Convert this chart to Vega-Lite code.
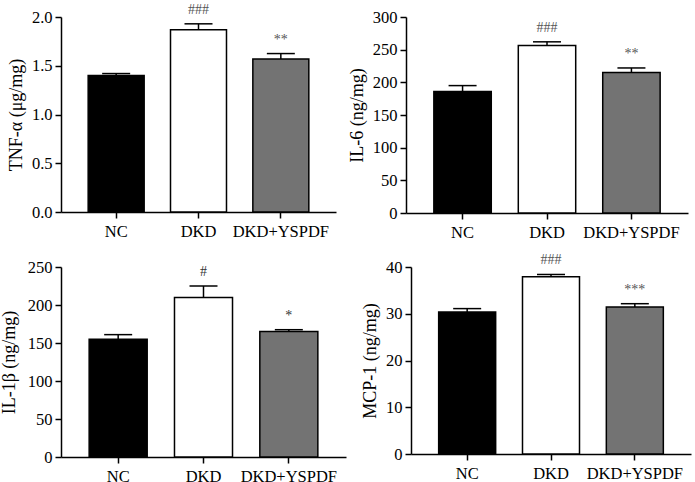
{
  "$schema": "https://vega.github.io/schema/vega-lite/v6.json",
  "padding": {"left": 0, "top": 2, "right": 4, "bottom": 0},
  "background": "white",
  "spacing": 12,
  "config": {
    "view": {"stroke": null},
    "font": "Liberation Serif",
    "axis": {
      "domainColor": "black", "domainWidth": 1.5, "tickColor": "black", "tickWidth": 1.5, "tickSize": 6,
      "labelFont": "Liberation Serif", "labelFontSize": 16.5, "labelColor": "black", "labelOverlap": false,
      "titleFont": "Liberation Serif", "titleFontSize": 18, "titleFontWeight": "normal", "titleColor": "black",
      "grid": false
    },
    "axisX": {"labelAngle": 0, "labelPadding": 5, "title": null},
    "axisY": {"labelPadding": 3, "titlePadding": 6}
  },
  "datasets": {
    "tnf": [
      {"group": "NC", "value": 1.40, "upper": 1.42, "sig": ""},
      {"group": "DKD", "value": 1.87, "upper": 1.93, "sig": "###"},
      {"group": "DKD+YSPDF", "value": 1.57, "upper": 1.625, "sig": "**"}
    ],
    "il6": [
      {"group": "NC", "value": 186, "upper": 195, "sig": ""},
      {"group": "DKD", "value": 256.5, "upper": 262, "sig": "###"},
      {"group": "DKD+YSPDF", "value": 215, "upper": 222, "sig": "**"}
    ],
    "il1b": [
      {"group": "NC", "value": 155, "upper": 161, "sig": ""},
      {"group": "DKD", "value": 210, "upper": 225, "sig": "#"},
      {"group": "DKD+YSPDF", "value": 165, "upper": 167.5, "sig": "*"}
    ],
    "mcp1": [
      {"group": "NC", "value": 30.4, "upper": 31.1, "sig": ""},
      {"group": "DKD", "value": 37.9, "upper": 38.4, "sig": "###"},
      {"group": "DKD+YSPDF", "value": 31.45, "upper": 32.15, "sig": "***"}
    ]
  },
  "vconcat": [
    {
      "spacing": 12,
      "hconcat": [
        {
          "width": 275, "height": 195,
          "data": {"name": "tnf"},
          "encoding": {
            "x": {"field": "group", "type": "nominal", "sort": null, "scale": {"paddingInner": 0.32, "paddingOuter": 0.33}},
            "y": {"field": "value", "type": "quantitative", "scale": {"domain": [0, 2]}, "axis": {"values": [0, 0.5, 1, 1.5, 2], "format": ".1f", "title": "TNF-α (μg/mg)"}}
          },
          "layer": [
            {"mark": {"type": "bar", "stroke": "black", "strokeWidth": 1.5},
             "encoding": {"fill": {"field": "group", "type": "nominal", "scale": {"domain": ["NC", "DKD", "DKD+YSPDF"], "range": ["#000000", "#ffffff", "#737373"]}, "legend": null}}},
            {"mark": {"type": "rule", "strokeWidth": 1.5, "color": "black"},
             "encoding": {"y2": {"field": "upper"}}},
            {"mark": {"type": "tick", "size": 28, "thickness": 1.5, "color": "black", "opacity": 1},
             "encoding": {"y": {"field": "upper", "type": "quantitative"}}},
            {"mark": {"type": "text", "dy": -10, "fontSize": 14, "color": "#555555", "baseline": "alphabetic"},
             "encoding": {"y": {"field": "upper", "type": "quantitative"}, "text": {"field": "sig"}}}
          ]
        },
        {
          "width": 282, "height": 196,
          "data": {"name": "il6"},
          "encoding": {
            "x": {"field": "group", "type": "nominal", "sort": null, "scale": {"paddingInner": 0.32, "paddingOuter": 0.33}},
            "y": {"field": "value", "type": "quantitative", "scale": {"domain": [0, 300]}, "axis": {"values": [0, 50, 100, 150, 200, 250, 300], "title": "IL-6 (ng/mg)"}}
          },
          "layer": [
            {"mark": {"type": "bar", "stroke": "black", "strokeWidth": 1.5},
             "encoding": {"fill": {"field": "group", "type": "nominal", "scale": {"domain": ["NC", "DKD", "DKD+YSPDF"], "range": ["#000000", "#ffffff", "#737373"]}, "legend": null}}},
            {"mark": {"type": "rule", "strokeWidth": 1.5, "color": "black"},
             "encoding": {"y2": {"field": "upper"}}},
            {"mark": {"type": "tick", "size": 28, "thickness": 1.5, "color": "black", "opacity": 1},
             "encoding": {"y": {"field": "upper", "type": "quantitative"}}},
            {"mark": {"type": "text", "dy": -10, "fontSize": 14, "color": "#555555", "baseline": "alphabetic"},
             "encoding": {"y": {"field": "upper", "type": "quantitative"}, "text": {"field": "sig"}}}
          ]
        }
      ]
    },
    {
      "spacing": 15,
      "hconcat": [
        {
          "width": 285, "height": 190,
          "data": {"name": "il1b"},
          "encoding": {
            "x": {"field": "group", "type": "nominal", "sort": null, "scale": {"paddingInner": 0.32, "paddingOuter": 0.33}},
            "y": {"field": "value", "type": "quantitative", "scale": {"domain": [0, 250]}, "axis": {"values": [0, 50, 100, 150, 200, 250], "title": "IL-1β (ng/mg)", "titlePadding": 9}}
          },
          "layer": [
            {"mark": {"type": "bar", "stroke": "black", "strokeWidth": 1.5},
             "encoding": {"fill": {"field": "group", "type": "nominal", "scale": {"domain": ["NC", "DKD", "DKD+YSPDF"], "range": ["#000000", "#ffffff", "#737373"]}, "legend": null}}},
            {"mark": {"type": "rule", "strokeWidth": 1.5, "color": "black"},
             "encoding": {"y2": {"field": "upper"}}},
            {"mark": {"type": "tick", "size": 28, "thickness": 1.5, "color": "black", "opacity": 1},
             "encoding": {"y": {"field": "upper", "type": "quantitative"}}},
            {"mark": {"type": "text", "dy": -10, "fontSize": 14, "color": "#333333", "baseline": "alphabetic"},
             "encoding": {"y": {"field": "upper", "type": "quantitative"}, "text": {"field": "sig"}}}
          ]
        },
        {
          "width": 280, "height": 187,
          "data": {"name": "mcp1"},
          "encoding": {
            "x": {"field": "group", "type": "nominal", "sort": null, "scale": {"paddingInner": 0.32, "paddingOuter": 0.33}},
            "y": {"field": "value", "type": "quantitative", "scale": {"domain": [0, 40]}, "axis": {"values": [0, 10, 20, 30, 40], "title": "MCP-1 (ng/mg)"}}
          },
          "layer": [
            {"mark": {"type": "bar", "stroke": "black", "strokeWidth": 1.5},
             "encoding": {"fill": {"field": "group", "type": "nominal", "scale": {"domain": ["NC", "DKD", "DKD+YSPDF"], "range": ["#000000", "#ffffff", "#737373"]}, "legend": null}}},
            {"mark": {"type": "rule", "strokeWidth": 1.5, "color": "black"},
             "encoding": {"y2": {"field": "upper"}}},
            {"mark": {"type": "tick", "size": 28, "thickness": 1.5, "color": "black", "opacity": 1},
             "encoding": {"y": {"field": "upper", "type": "quantitative"}}},
            {"mark": {"type": "text", "dy": -10, "fontSize": 14, "color": "#555555", "baseline": "alphabetic"},
             "encoding": {"y": {"field": "upper", "type": "quantitative"}, "text": {"field": "sig"}}}
          ]
        }
      ]
    }
  ]
}
